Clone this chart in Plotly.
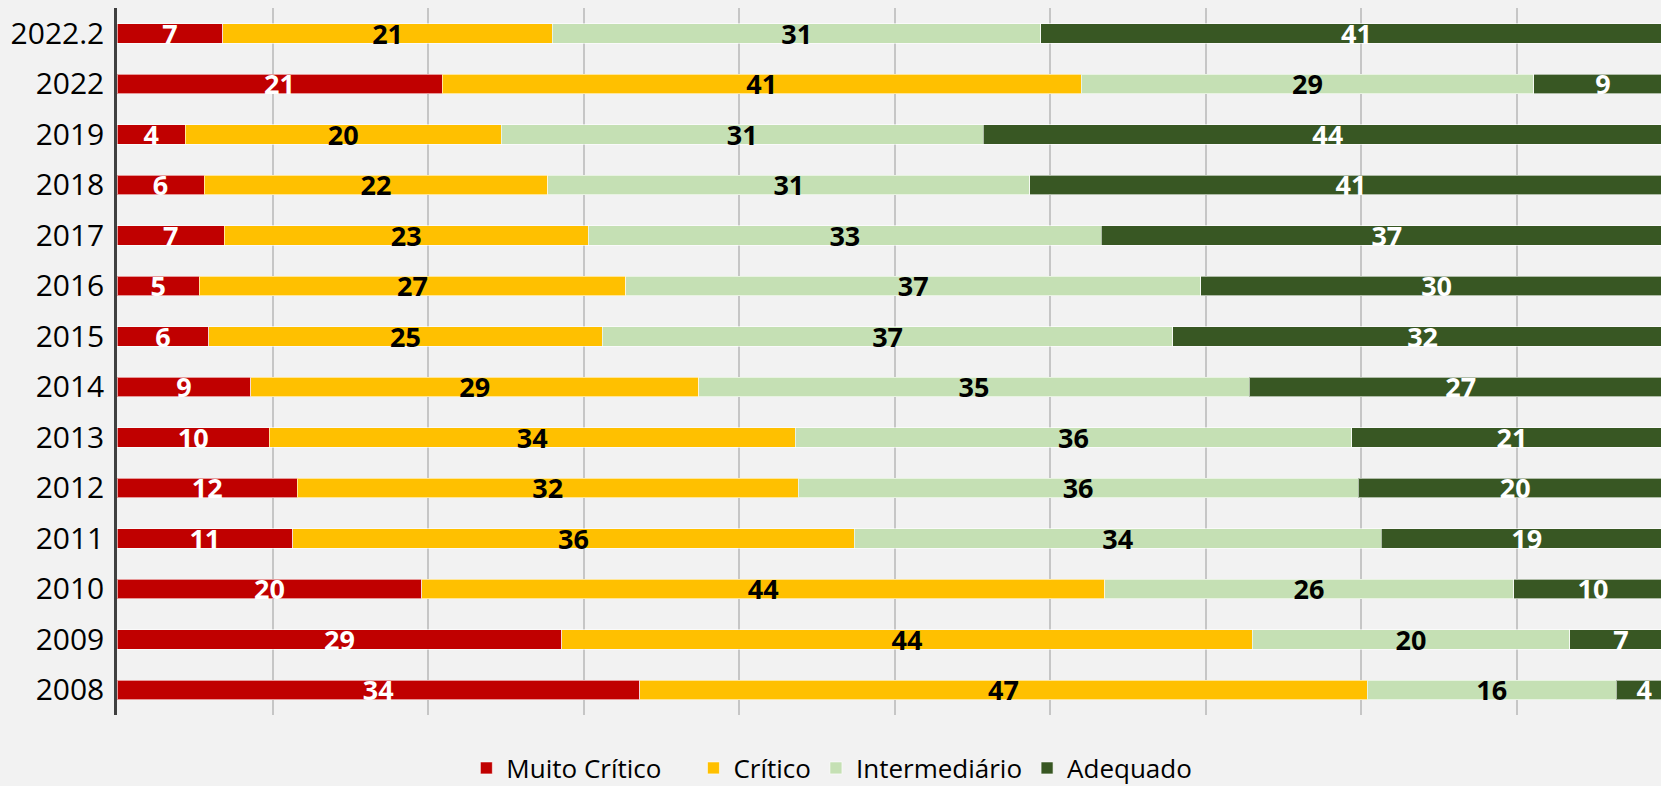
import plotly.graph_objects as go

years = ["2022.2", "2022", "2019", "2018", "2017", "2016", "2015", "2014",
         "2013", "2012", "2011", "2010", "2009", "2008"]

muito_critico = [6.8, 20.9, 4.4, 5.6, 6.9, 5.3, 5.9, 8.6, 9.8, 11.6, 11.3, 19.6, 28.6, 33.6]
critico       = [21.2, 41.1, 20.3, 22.1, 23.4, 27.4, 25.3, 28.8, 33.8, 32.2, 36.1, 43.9, 44.4, 46.8]
intermediario = [31.4, 29.1, 31.0, 31.0, 33.0, 37.0, 36.7, 35.4, 35.8, 36.0, 33.9, 26.3, 20.4, 16.0]
adequado      = [40.6, 8.9, 44.3, 41.3, 36.7, 30.3, 32.1, 27.2, 20.6, 20.2, 18.7, 10.2, 6.6, 3.6]

# legend labels (first entry padded to reproduce the wider gap in the reference legend)
legend_labels = ["Muito Crítico\u00a0\u00a0\u00a0\u00a0", "Crítico", "Intermediário", "Adequado"]

series = [
    (legend_labels[0], muito_critico, "#C00000", "white"),
    (legend_labels[1], critico, "#FFC000", "black"),
    (legend_labels[2], intermediario, "#C5E0B4", "black"),
    (legend_labels[3], adequado, "#385723", "white"),
]

FONT = "Open Sans, Noto Sans, sans-serif"

fig = go.Figure()
for name, vals, color, tcolor in series:
    fig.add_trace(go.Bar(
        y=years, x=vals, name=name, orientation="h",
        marker=dict(color=color, line=dict(color="rgba(255,255,255,0.6)", width=1)),
        texttemplate="%{x:.0f}", textposition="inside", insidetextanchor="middle",
        textangle=0, constraintext="none", cliponaxis=True,
        textfont=dict(family=FONT, size=27, color=tcolor, weight="bold"),
        hoverinfo="skip",
    ))

W, H = 1661, 786
ml, mt, mb, mr = 117, 8, 71, 0
plot_w = W - ml - mr
px_per_pct = 15.552

fig.update_layout(
    width=W, height=H,
    barmode="stack", bargap=0.614,
    paper_bgcolor="#F2F2F2", plot_bgcolor="#F2F2F2",
    margin=dict(l=ml, r=mr, t=mt, b=mb, autoexpand=False),
    font=dict(family=FONT, color="black"),
    showlegend=True,
    legend=dict(orientation="h", x=0.463, xanchor="center", y=-0.075, yanchor="middle",
                font=dict(family=FONT, size=26, color="black"),
                traceorder="normal", itemclick=False, bgcolor="rgba(0,0,0,0)"),
    xaxis=dict(range=[0, plot_w / px_per_pct], showticklabels=False, showgrid=True,
               gridcolor="#C6C6C6", gridwidth=1.5, dtick=10, zeroline=False,
               showline=False, ticks=""),
    yaxis=dict(type="category", categoryorder="array", categoryarray=years,
               autorange="reversed", showline=True, linecolor="#404040", linewidth=2.5,
               ticks="", ticklabelstandoff=4, showgrid=False,
               tickfont=dict(family=FONT, size=30, color="black")),
)

fig.write_html(
    "out.html",
    config={"displayModeBar": False},
    post_script="document.body.style.margin='0';document.body.style.background='#F2F2F2';"
                "document.documentElement.style.overflow='hidden';",
)
